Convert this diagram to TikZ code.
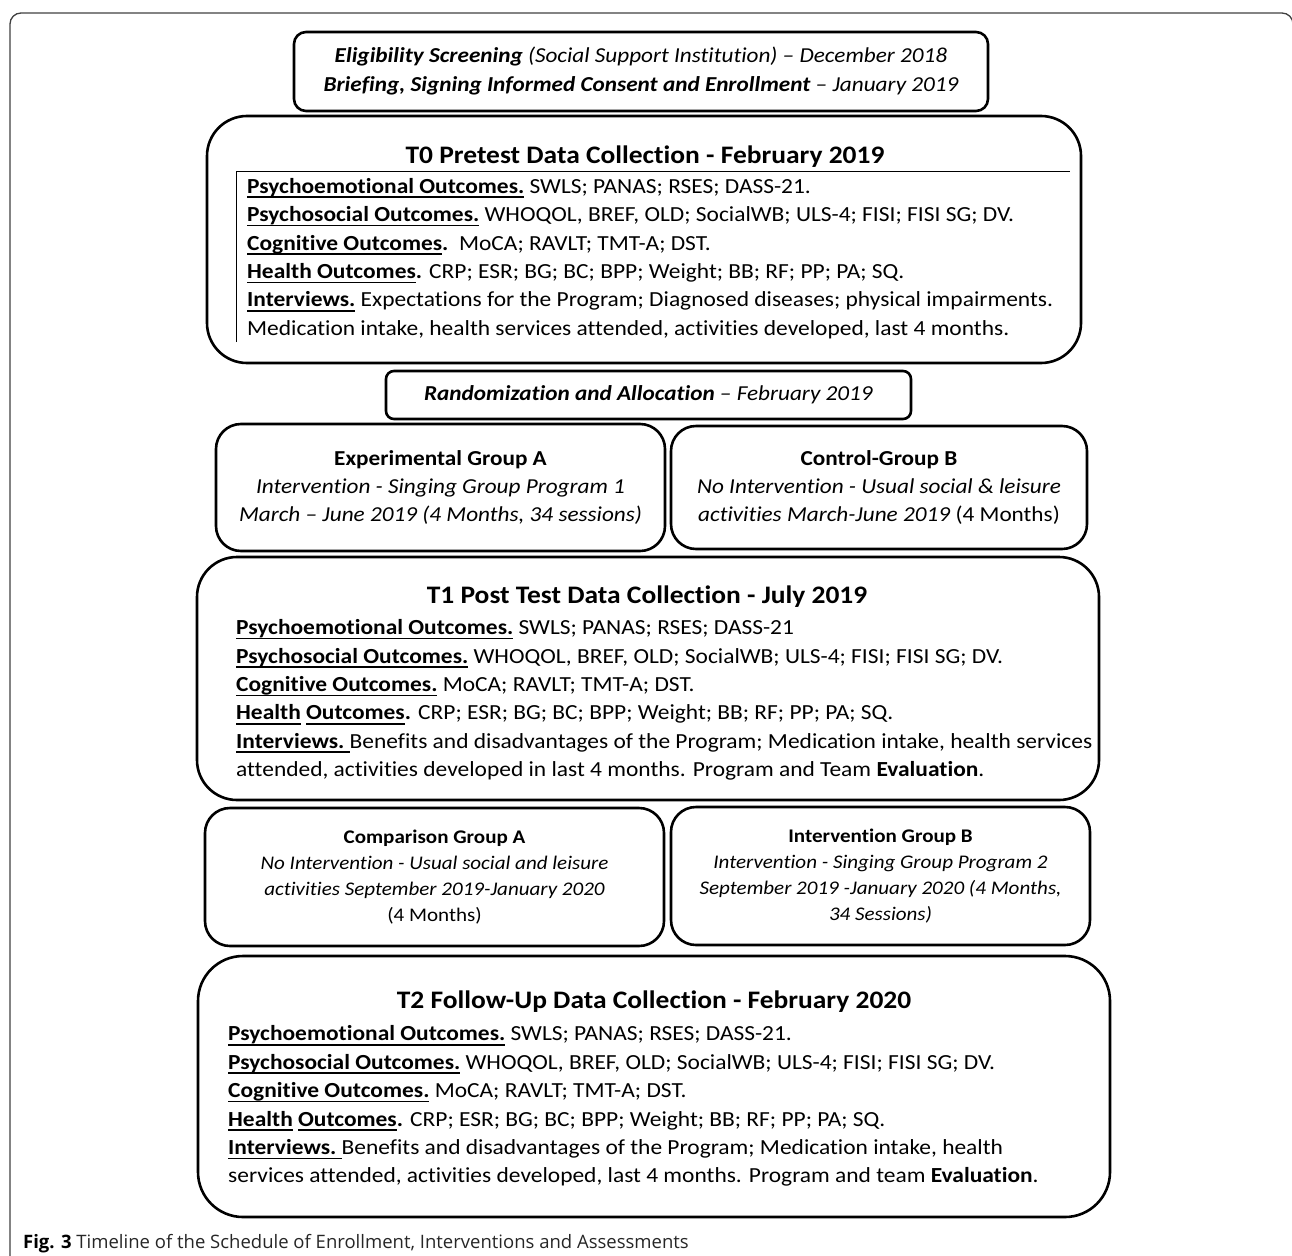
\documentclass[tikz,border=0pt]{standalone}
\usepackage{fontspec}
\setmainfont{Carlito}[FakeStretch=1.09, Ligatures=NoCommon]
\newfontfamily\capfont{Open Sans}
\newsavebox\ulbox
\newcommand{\hd}[1]{\sbox\ulbox{#1}\rlap{\rule[-4.7pt]{\wd\ulbox}{1.6pt}}\usebox\ulbox}

\tikzset{
    box/.style={draw, line width=2.6pt, inner sep=0pt, align=center},
    framewire/.style={draw=black!75, line width=1.3pt},
    head/.style={font=\bfseries\fontsize{25.2}{30}\selectfont},
    items/.style={anchor=north west, inner sep=0pt, align=left,
        font=\fontsize{21.5}{28.4}\selectfont},
    group/.style={font=\fontsize{21.3}{27.8}\selectfont},
    smallgroup/.style={font=\fontsize{19.3}{26}\selectfont}
}

\begin{document}
\begin{tikzpicture}[x=1pt, y=-1pt]
    \useasboundingbox (0,0) rectangle (1292,1255);
    % Outer frame
    \draw [framewire, rounded corners=11pt] (10,1260) -- (10,13) -- (1293,13) -- (1293,60);

    % Enrollment
    \node [box, rounded corners=12pt, minimum width=694pt, minimum height=79pt,
        font=\itshape\fontsize{21.3}{29}\selectfont] (elig) at (641,71.5)
        {\textbf{Eligibility Screening} (Social Support Institution) -- December 2018\\
         \textbf{Briefing, Signing Informed Consent and Enrollment} -- January 2019};

    % T0
    \node [box, rounded corners=40pt, minimum width=874pt, minimum height=247pt] (pre) at (644,239.5) {};
    \node [head] (preTitle) at (645,157) {T0 Pretest Data Collection - February 2019};
    \draw [line width=1pt] (236,342) |- (1070,171);
    \node [items] (preList) at (247,178) {%
        \hd{\textbf{Psychoemotional Outcomes.}} SWLS; PANAS; RSES; DASS-21.\\
        \hd{\textbf{Psychosocial Outcomes.}} WHOQOL, BREF, OLD; SocialWB; ULS-4; FISI; FISI SG; DV.\\
        \hd{\textbf{Cognitive Outcomes}}\textbf{.}\ \ MoCA; RAVLT; TMT-A; DST.\\
        \hd{\textbf{Health Outcomes}}\textbf{.} CRP; ESR; BG; BC; BPP; Weight; BB; RF; PP; PA; SQ.\\
        \hd{\textbf{Interviews.}} Expectations for the Program; Diagnosed diseases; physical impairments.\\
        Medication intake, health services attended, activities developed, last 4 months.};

    % Randomization
    \node [box, rounded corners=8pt, minimum width=525pt, minimum height=48pt, group] (rand) at (648.5,395)
        {\textbf{\textit{Randomization and Allocation}} \textit{-- February 2019}};

    % First period
    \node [box, rounded corners=25pt, minimum width=449pt, minimum height=127pt, group] (expA) at (440.5,487.5)
        {\textbf{Experimental Group A}\\
         \textit{Intervention - Singing Group Program 1}\\
         \textit{March -- June 2019 (4 Months, 34 sessions)}};
    \node [box, rounded corners=25pt, minimum width=416pt, minimum height=123pt, group] (ctrlB) at (879,487.5)
        {\textbf{Control-Group B}\\
         \textit{No Intervention - Usual social \& leisure}\\
         \textit{activities March-June 2019} (4 Months)};

    % T1
    \node [box, rounded corners=40pt, minimum width=902pt, minimum height=243pt] (post) at (648,678.5) {};
    \node [head] (postTitle) at (647,597) {T1 Post Test Data Collection - July 2019};
    \node [items] (postList) at (236,619.5) {%
        \hd{\textbf{Psychoemotional Outcomes.}} SWLS; PANAS; RSES; DASS-21\\
        \hd{\textbf{Psychosocial Outcomes.}} WHOQOL, BREF, OLD; SocialWB; ULS-4; FISI; FISI SG; DV.\\
        \hd{\textbf{Cognitive Outcomes.}} MoCA; RAVLT; TMT-A; DST.\\
        \hd{\textbf{Health}} \hd{\textbf{Outcomes}}\textbf{.} CRP; ESR; BG; BC; BPP; Weight; BB; RF; PP; PA; SQ.\\
        \hd{\textbf{Interviews.}\ }Benefits and disadvantages of the Program; Medication intake, health services\\
        attended, activities developed in last 4 months. Program and Team \textbf{Evaluation}.};

    % Second period
    \node [box, rounded corners=25pt, minimum width=459pt, minimum height=138pt, smallgroup] (compA) at (434.5,877)
        {\textbf{Comparison Group A}\\
         \textit{No Intervention - Usual social and leisure}\\
         \textit{activities September 2019-January 2020}\\
         (4 Months)};
    \node [box, rounded corners=25pt, minimum width=419pt, minimum height=138pt, smallgroup] (intB) at (880.5,876)
        {\textbf{Intervention Group B}\\
         \textit{Intervention - Singing Group Program 2}\\
         \textit{September 2019 -January 2020 (4 Months,}\\
         \textit{34 Sessions)}};

    % T2
    \node [box, rounded corners=45pt, minimum width=912pt, minimum height=261pt] (follow) at (654,1086.5) {};
    \node [head] (followTitle) at (654,1002) {T2 Follow-Up Data Collection - February 2020};
    \node [items] (followList) at (228,1025.5) {%
        \hd{\textbf{Psychoemotional Outcomes.}} SWLS; PANAS; RSES; DASS-21.\\
        \hd{\textbf{Psychosocial Outcomes.}} WHOQOL, BREF, OLD; SocialWB; ULS-4; FISI; FISI SG; DV.\\
        \hd{\textbf{Cognitive Outcomes.}} MoCA; RAVLT; TMT-A; DST.\\
        \hd{\textbf{Health}} \hd{\textbf{Outcomes}}\textbf{.} CRP; ESR; BG; BC; BPP; Weight; BB; RF; PP; PA; SQ.\\
        \hd{\textbf{Interviews.}\ }Benefits and disadvantages of the Program; Medication intake, health\\
        services attended, activities developed, last 4 months. Program and team \textbf{Evaluation}.};

    % Caption
    \node [anchor=base west, inner sep=0pt, font=\capfont\fontsize{18.5}{22}\selectfont] (caption) at (23,1248)
        {\textbf{Fig. 3} {\color{black!85}Timeline of the Schedule of Enrollment, Interventions and Assessments}};
\end{tikzpicture}
\end{document}
